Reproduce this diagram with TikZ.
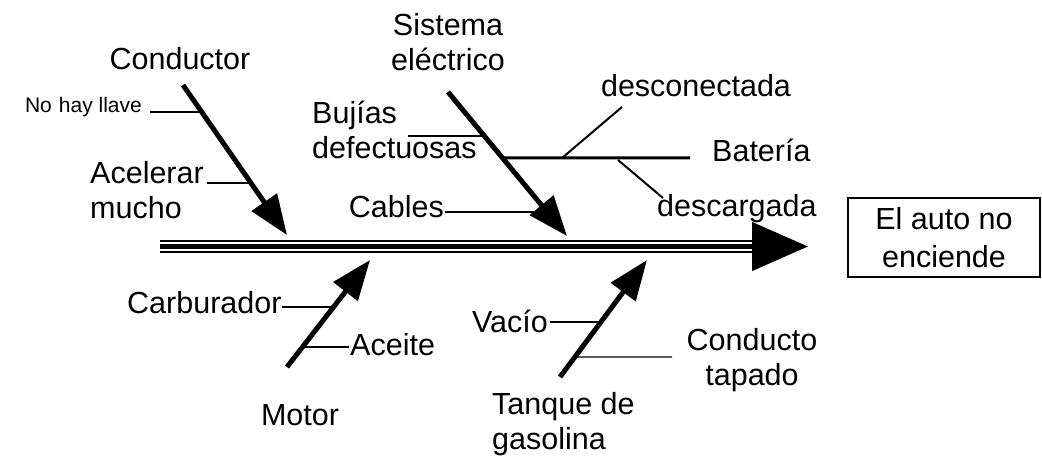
\documentclass[tikz,border=0pt]{standalone}
\usepackage{fontspec}
\setmainfont{Liberation Sans}
\usetikzlibrary{arrows.meta,calc}
\begin{document}
\begin{tikzpicture}[x=1pt,y=-1pt,
  lbl/.style={inner sep=0pt, font=\fontsize{30.5}{35}\selectfont},
  smalllbl/.style={inner sep=0pt, font=\fontsize{21}{25}\selectfont},
  bone/.style={line width=5pt, -{Triangle[length=40pt,width=30pt]}},
  spinemain/.style={line width=4.5pt, -{Triangle[length=56pt,width=48pt]}},
  spinethin/.style={line width=2pt},
  sub/.style={line width=1.4pt},
  subthick/.style={line width=3pt},
  subdiag/.style={line width=2pt},
  effect/.style={draw, line width=1.2pt, inner sep=0pt, minimum width=192pt, minimum height=79pt, align=center, font=\fontsize{30.5}{38}\selectfont}
]
\useasboundingbox (0,0) rectangle (1042,457);

% spine
\coordinate (spS) at (160,246.5);
\coordinate (spT) at (808,246.5);
\coordinate (spS1) at (160,241);
\coordinate (spE1) at (756,241);
\coordinate (spS2) at (160,252.5);
\coordinate (spE2) at (756,252.5);
\draw[spinethin] (spS1) -- (spE1);
\draw[spinethin] (spS2) -- (spE2);
\draw[spinemain] (spS) -- (spT);

% effect box
\node[effect] (effect) at (944,237.5) {El auto no\\enciende};

% main bones
\coordinate (condS) at (183,85);  \coordinate (condT) at (287,235);
\coordinate (sisS) at (448,92);   \coordinate (sisT) at (567,236);
\coordinate (motS) at (287,367);  \coordinate (motT) at (370,260);
\coordinate (tanS) at (560,377);  \coordinate (tanT) at (647,260);
\draw[bone] (condS) -- (condT);
\draw[bone] (sisS) -- (sisT);
\draw[bone] (motS) -- (motT);
\draw[bone] (tanS) -- (tanT);

% category labels
\node[lbl, anchor=base] (conductor) at (180,70) {Conductor};
\node[lbl, anchor=north, align=center] (sistema) at (448,13) {Sistema\\el\'ectrico};
\node[lbl, anchor=base] (motor) at (300,425) {Motor};
\node[lbl, anchor=north west, align=left] (tanque) at (492,392) {Tanque de\\gasolina};

% points on bones
\coordinate (pNoHay) at ($(condS)!0.18!(condT)$);
\coordinate (pAcel) at ($(condS)!0.653!(condT)$);
\coordinate (pBuj) at ($(sisS)!0.306!(sisT)$);
\coordinate (pBat) at ($(sisS)!0.458!(sisT)$);
\coordinate (pCab) at ($(sisS)!0.833!(sisT)$);
\coordinate (pCarb) at ($(motS)!0.56!(motT)$);
\coordinate (pAce) at ($(motS)!0.187!(motT)$);
\coordinate (pVac) at ($(tanS)!0.47!(tanT)$);
\coordinate (pCond) at ($(tanS)!0.171!(tanT)$);

% x positions of free line ends
\coordinate (nohayL) at (150,0);
\coordinate (acelL) at (207,0);
\coordinate (bujL) at (408,0);
\coordinate (cabL) at (445,0);
\coordinate (aceR) at (349,0);
\coordinate (vacL) at (550,0);

% Conductor causes
\node[smalllbl, anchor=base east] (nohay) at (142,113) {No\,\,hay llave};
\draw[sub] (nohayL |- pNoHay) -- (pNoHay);
\node[lbl, anchor=north west, align=left] (acel) at (90,161) {Acelerar\\mucho};
\draw[sub] (acelL |- pAcel) -- (pAcel);

% Sistema electrico causes
\node[lbl, anchor=north west, align=left] (bujias) at (312,101) {Buj\'ias\\defectuosas};
\draw[sub] (bujL |- pBuj) -- (pBuj);
\node[lbl, anchor=base east] (cables) at (444,218) {Cables};
\draw[sub] (cabL |- pCab) -- (pCab);

% Bateria sub-branch
\coordinate (batE) at (690,158);
\draw[subthick] (pBat) -- (batE);
\node[lbl, anchor=base west] (bateria) at (712,162) {Bater\'ia};
\node[lbl, anchor=base] (descon) at (696,97) {desconectada};
\node[lbl, anchor=base west] (descar) at (657,217) {descargada};
\coordinate (dcA) at (562,158); \coordinate (dcB) at (622,107);
\coordinate (dgA) at (618,160); \coordinate (dgB) at (663,198);
\draw[subdiag] (dcA) -- (dcB);
\draw[subdiag] (dgA) -- (dgB);

% Motor causes
\node[lbl, anchor=base west] (carb) at (127,313) {Carburador};
\draw[sub] (carb.east |- pCarb) -- (pCarb);
\node[lbl, anchor=base west] (aceite) at (350,355) {Aceite};
\draw[sub] (pAce) -- (aceR |- pAce);

% Tanque causes
\node[lbl, anchor=base east] (vacio) at (548,332) {Vac\'io};
\draw[sub] (vacL |- pVac) -- (pVac);
\node[lbl, anchor=north, align=center] (conducto) at (752,328) {Conducto\\tapado};
\coordinate (condE) at (672,357);
\draw[sub] (pCond) -- (condE);
\end{tikzpicture}
\end{document}
